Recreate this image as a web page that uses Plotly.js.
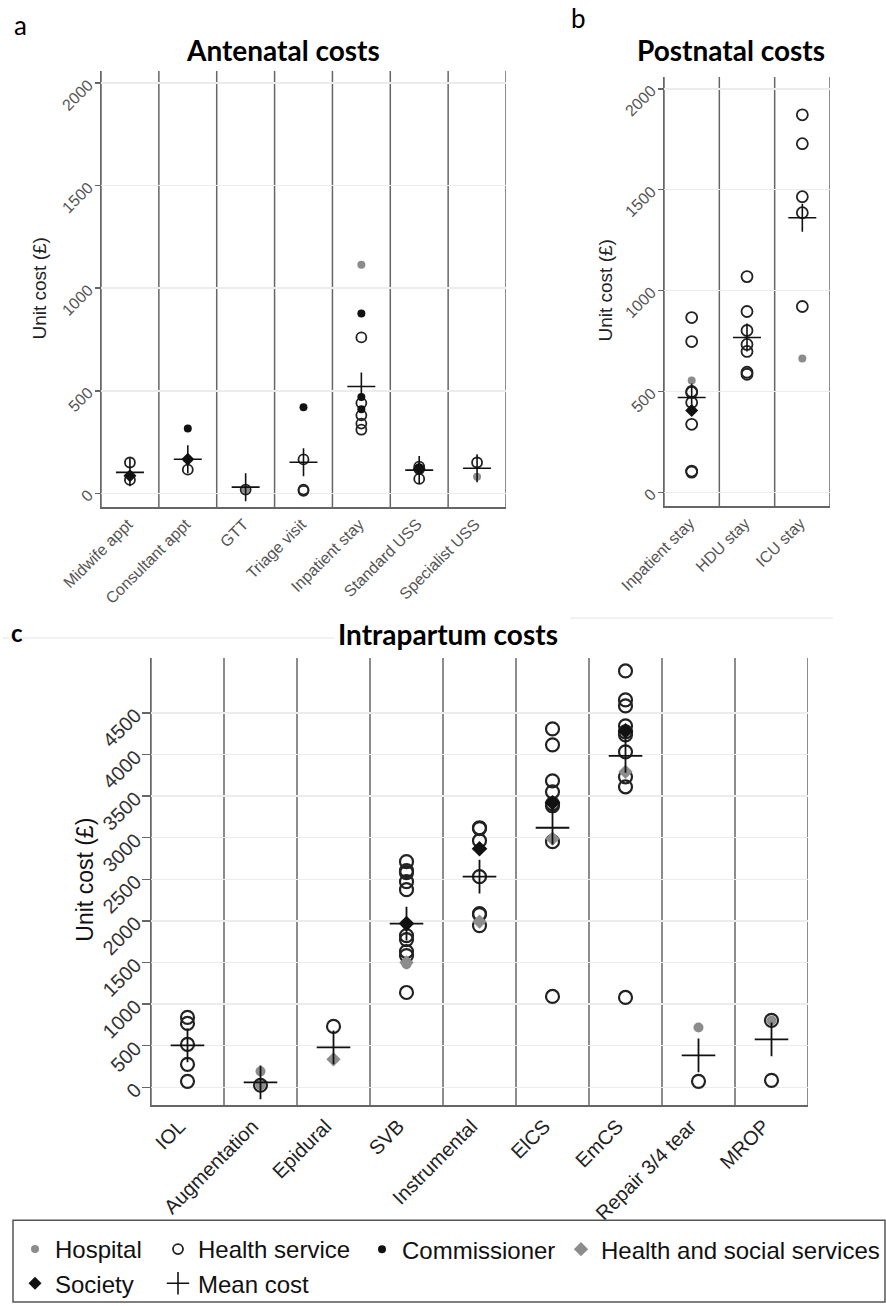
<!DOCTYPE html>
<html><head><meta charset="utf-8">
<script src="https://cdn.plot.ly/plotly-3.0.1.min.js"></script>
<style>html,body{margin:0;padding:0;background:#fff}</style>
</head><body><div id="chart" style="width:886px;height:1306px"></div>
<script>
// ---------- Panel a: Antenatal costs ----------
const anteCats = ['Midwife appt','Consultant appt','GTT','Triage visit','Inpatient stay','Standard USS','Specialist USS'];
const anteHospitalX = ['GTT','Inpatient stay','Specialist USS'];
const anteHospitalY = [20, 1115, 80];
const anteHealthX = ['Midwife appt','Midwife appt','Consultant appt','GTT','Triage visit','Triage visit','Triage visit',
  'Inpatient stay','Inpatient stay','Inpatient stay','Inpatient stay','Inpatient stay','Standard USS','Standard USS','Standard USS','Specialist USS'];
const anteHealthY = [150, 65, 115, 18, 165, 18, 12, 760, 440, 380, 340, 310, 130, 118, 70, 150];
const anteCommX = ['Consultant appt','Triage visit','Inpatient stay','Inpatient stay','Inpatient stay','Standard USS'];
const anteCommY = [316, 419, 877, 470, 410, 125];
const anteSocietyX = ['Midwife appt','Consultant appt','Standard USS'];
const anteSocietyY = [85, 166, 118];
const anteMeanY = [102, 166, 30, 151, 521, 113, 122];

// ---------- Panel b: Postnatal costs ----------
const postCats = ['Inpatient stay','HDU stay','ICU stay'];
const postHospitalX = ['Inpatient stay','ICU stay'];
const postHospitalY = [554, 663];
const postHealthX = ['Inpatient stay','Inpatient stay','Inpatient stay','Inpatient stay','Inpatient stay','Inpatient stay','Inpatient stay','Inpatient stay',
  'HDU stay','HDU stay','HDU stay','HDU stay','HDU stay','HDU stay','HDU stay',
  'ICU stay','ICU stay','ICU stay','ICU stay','ICU stay'];
const postHealthY = [866, 747, 500, 495, 445, 337, 105, 100,
  1069, 896, 802, 733, 698, 595, 585,
  1871, 1728, 1465, 1386, 921];
const postSocietyX = ['Inpatient stay'];
const postSocietyY = [406];
const postMeanY = [470, 767, 1361];

// ---------- Panel c: Intrapartum costs ----------
const intraCats = ['IOL','Augmentation','Epidural','SVB','Instrumental','ElCS','EmCS','Repair 3/4 tear','MROP'];
const intraHospitalX = ['Augmentation','Augmentation','Augmentation','SVB','Repair 3/4 tear','MROP'];
const intraHospitalY = [192, 40, 25, 1480, 720, 804];
const intraHealthX = ['IOL','IOL','IOL','IOL','IOL','Augmentation','Epidural',
  'SVB','SVB','SVB','SVB','SVB','SVB','SVB','SVB','SVB','SVB',
  'Instrumental','Instrumental','Instrumental','Instrumental','Instrumental','Instrumental','Instrumental',
  'ElCS','ElCS','ElCS','ElCS','ElCS','ElCS','ElCS','ElCS',
  'EmCS','EmCS','EmCS','EmCS','EmCS','EmCS','EmCS','EmCS','EmCS','EmCS',
  'Repair 3/4 tear','MROP','MROP'];
const intraHealthY = [840, 768, 516, 276, 72, 25, 732,
  2712, 2604, 2580, 2472, 2376, 1824, 1776, 1632, 1584, 1140,
  3120, 3110, 2964, 2532, 2088, 2076, 1944,
  4308, 4116, 3684, 3552, 3408, 3384, 2952, 1092,
  5004, 4656, 4584, 4344, 4272, 4236, 4032, 3732, 3612, 1080,
  72, 804, 84];
const intraHsX = ['Epidural','SVB','Instrumental','ElCS','EmCS'];
const intraHsY = [336, 1500, 1992, 2988, 3792];
const intraSocietyX = ['SVB','Instrumental','ElCS','EmCS'];
const intraSocietyY = [1968, 2868, 3420, 4284];
const intraMeanY = [504, 60, 480, 1968, 2532, 3120, 3984, 384, 576];

// ---------- styles ----------
const W = 886, H = 1306;
const px = v => v / W;
const py = v => 1 - v / H;
const GRAY = '#8c8c8c', BLACK = '#111111';

function mk(name, x, y, ax, marker, showlegend, legend) {
  return {type:'scatter', mode:'markers', name:name, legendgroup:name, showlegend:showlegend, legend:legend,
    x:x, y:y, xaxis:'x'+ax, yaxis:'y'+ax, marker:marker, hoverinfo:'x+y'};
}
const hosp = s => ({symbol:'circle', size:s, color:GRAY});
const hlth = (s,w) => ({symbol:'circle-open', size:s, color:'#222', line:{width:w, color:'#222'}});
const comm = s => ({symbol:'circle', size:s, color:BLACK});
const hs = s => ({symbol:'diamond', size:s, color:GRAY});
const soc = s => ({symbol:'diamond', size:s, color:BLACK});
const mean = (s,w) => ({symbol:'cross-thin', size:s, color:BLACK, line:{width:w, color:BLACK}});

const data = [
  mk('Hospital', anteHospitalX, anteHospitalY, '', hosp(8), true, 'legend'),
  mk('Hospital', postHospitalX, postHospitalY, '2', hosp(8), false, 'legend'),
  mk('Hospital', intraHospitalX, intraHospitalY, '3', hosp(10), false, 'legend'),
  mk('Health service', anteHealthX, anteHealthY, '', hlth(10,1.8), true, 'legend2'),
  mk('Health service', postHealthX, postHealthY, '2', hlth(11,1.8), false, 'legend2'),
  mk('Health service', intraHealthX, intraHealthY, '3', hlth(13,2.2), false, 'legend2'),
  mk('Commissioner', anteCommX, anteCommY, '', comm(8), true, 'legend3'),
  mk('Health and social services', intraHsX, intraHsY, '3', hs(11), true, 'legend4'),
  mk('Society', anteSocietyX, anteSocietyY, '', soc(10), true, 'legend'),
  mk('Society', postSocietyX, postSocietyY, '2', soc(10), false, 'legend'),
  mk('Society', intraSocietyX, intraSocietyY, '3', soc(12), false, 'legend'),
  mk('Mean cost', anteCats, anteMeanY, '', mean(20,1.6), true, 'legend2'),
  mk('Mean cost', postCats, postMeanY, '2', mean(20,1.6), false, 'legend2'),
  mk('Mean cost', intraCats, intraMeanY, '3', mean(24,1.8), false, 'legend2')
];

const TICKFONT = 'Liberation Sans, Arial, sans-serif';
function xax(cats, dom, fs, color, ya, shift) {
  return {type:'category', categoryorder:'array', categoryarray:cats, range:[-0.5, cats.length-0.5],
    domain:dom, anchor:ya, showgrid:false, zeroline:false, showline:true, linecolor:'#666', linewidth:1.5,
    ticks:'', tickangle:-45, automargin:false, fixedrange:true, ticklabelshift:shift,
    tickfont:{family:TICKFONT, size:fs, color:color}};
}
function yax(range, tickvals, dom, fs, color, xa, tlen, standoff) {
  return {range:range, tickvals:tickvals, domain:dom, anchor:xa, showgrid:true, gridcolor:'#ececec', gridwidth:1.5,
    zeroline:false, showline:true, linecolor:'#666', linewidth:1.5, ticks:'outside', ticklen:tlen, tickwidth:1.5,
    tickcolor:'#666', tickangle:-45, automargin:false, fixedrange:true, ticklabelstandoff:standoff,
    tickfont:{family:TICKFONT, size:fs, color:color}};
}

const shapes = [];
function vlines(cats, ax) {
  for (let i = 0; i <= cats.length; i++) {
    shapes.push({type:'line', xref:'x'+ax, yref:'y'+ax+' domain', x0:i-0.5, x1:i-0.5, y0:0, y1:1,
      line:{color:'#666', width:1.5}, layer:'below'});
  }
}
vlines(anteCats, '');
vlines(postCats, '2');
vlines(intraCats, '3');
// faint separator rules near panel c heading
shapes.push({type:'line', xref:'paper', yref:'paper', x0:px(2), x1:px(335), y0:py(639), y1:py(639), line:{color:'#eeeeee', width:1.5}, layer:'below'});
shapes.push({type:'line', xref:'paper', yref:'paper', x0:px(570), x1:px(833), y0:py(619), y1:py(619), line:{color:'#eeeeee', width:1.5}, layer:'below'});
// legend frame
shapes.push({type:'rect', xref:'paper', yref:'paper', x0:px(13), x1:px(885), y0:py(1304), y1:py(1222), line:{color:'#555', width:1.5}, fillcolor:'rgba(0,0,0,0)', layer:'above'});

const TITLEFONT = 'Lato, Open Sans, sans-serif';
function ann(text, x, y, size, bold, extra) {
  return Object.assign({text: bold ? '<b>'+text+'</b>' : text, xref:'paper', yref:'paper', x:px(x), y:py(y),
    xanchor:'center', yanchor:'middle', showarrow:false,
    font:{family:TITLEFONT, size:size, color:'#000'}}, extra || {});
}
const annotations = [
  ann('a', 20, 25, 26, false),
  ann('b', 578, 18, 26, false),
  ann('c', 17, 633, 24, true),
  ann('Antenatal costs', 283, 50, 28, true),
  ann('Postnatal costs', 731, 50, 28, true),
  ann('Intrapartum costs', 448, 635, 28, true),
  ann('Unit cost (£)', 40, 289, 19, false, {textangle:-90, font:{family:TICKFONT, size:19, color:'#222'}}),
  ann('Unit cost (£)', 606, 291, 19, false, {textangle:-90, font:{family:TICKFONT, size:19, color:'#222'}}),
  ann('Unit cost (£)', 85, 881, 23, false, {textangle:-90, font:{family:TICKFONT, size:23, color:'#111'}})
];

function leg(xpx) {
  return {orientation:'v', x:px(xpx), xanchor:'left', y:py(1229), yanchor:'top',
    borderwidth:0, bgcolor:'rgba(0,0,0,0)', tracegroupgap:0,
    font:{family:'Liberation Sans, Arial, sans-serif', size:24, color:'#111'},
    itemclick:false, itemdoubleclick:false, traceorder:'normal'};
}

const layout = {
  width:W, height:H, margin:{l:0, r:0, t:0, b:0, pad:0},
  paper_bgcolor:'#fff', plot_bgcolor:'rgba(0,0,0,0)',
  xaxis: xax(anteCats, [px(101), px(506)], 16, '#555', 'y', -2),
  yaxis: yax([-68, 2060], [0,500,1000,1500,2000], [py(508), py(71)], 16, '#555', 'x', 5, 3),
  xaxis2: xax(postCats, [px(664), px(830)], 16, '#555', 'y2', -2),
  yaxis2: yax([-69, 2059], [0,500,1000,1500,2000], [py(507), py(77)], 16, '#555', 'x2', 5, 3),
  xaxis3: xax(intraCats, [px(151), px(808)], 20, '#222', 'y3', -8),
  yaxis3: yax([-216, 5160], [0,500,1000,1500,2000,2500,3000,3500,4000,4500], [py(1107), py(659)], 20, '#333', 'x3', 8, 2),
  shapes: shapes,
  annotations: annotations,
  showlegend: true,
  legend: leg(15),
  legend2: leg(158),
  legend3: leg(362),
  legend4: leg(561)
};

Plotly.newPlot('chart', data, layout, {displayModeBar:false, staticPlot:true});
</script>
</body></html>
